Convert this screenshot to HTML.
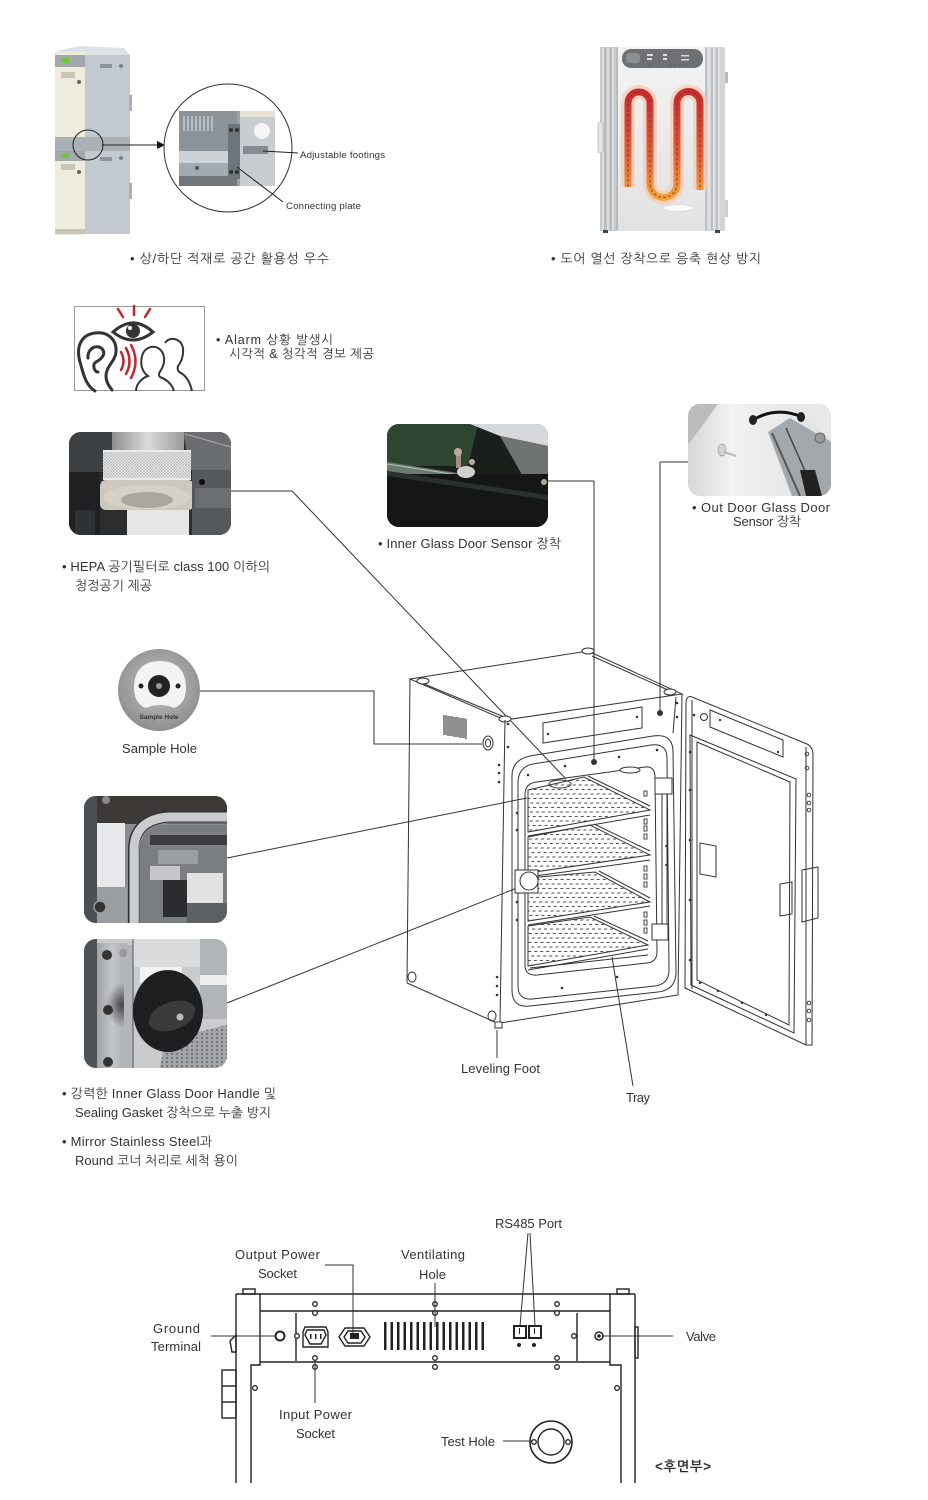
<!DOCTYPE html>
<html><head><meta charset="utf-8"><style>
html,body{margin:0;padding:0;background:#fff;}
body{width:928px;height:1500px;overflow:hidden;position:relative;}
svg{position:absolute;left:0;top:0;}
text{font-family:"Liberation Sans","NanumGothic","Noto Sans CJK KR",sans-serif;fill:#333;}
</style></head><body>
<svg width="928" height="1500" viewBox="0 0 928 1500" xmlns="http://www.w3.org/2000/svg">
<defs>
  <linearGradient id="coil" x1="0" y1="92" x2="0" y2="197" gradientUnits="userSpaceOnUse">
    <stop offset="0" stop-color="#c62f2f"/><stop offset="0.6" stop-color="#e0603a"/><stop offset="1" stop-color="#f2a53a"/>
  </linearGradient>
  <linearGradient id="door" x1="0" y1="0" x2="0" y2="1">
    <stop offset="0" stop-color="#f3f3f3"/><stop offset="1" stop-color="#e2e2e2"/>
  </linearGradient>
  <linearGradient id="cyl" x1="0" y1="0" x2="1" y2="0">
    <stop offset="0" stop-color="#8f8f8f"/><stop offset="0.5" stop-color="#dadada"/><stop offset="1" stop-color="#9a9a9a"/>
  </linearGradient>
  <linearGradient id="outd" x1="0" y1="0" x2="1" y2="0">
    <stop offset="0" stop-color="#d6d6d6"/><stop offset="0.3" stop-color="#f2f2f2"/><stop offset="1" stop-color="#e0e0e0"/>
  </linearGradient>
  <linearGradient id="plate" x1="0" y1="0" x2="1" y2="0">
    <stop offset="0" stop-color="#9ea2a5"/><stop offset="0.5" stop-color="#c4c7c9"/><stop offset="1" stop-color="#a9adb0"/>
  </linearGradient>
  <radialGradient id="smudge" cx="0.5" cy="0.5" r="0.5">
    <stop offset="0" stop-color="#2a2a2a" stop-opacity="0.8"/><stop offset="1" stop-color="#2a2a2a" stop-opacity="0"/>
  </radialGradient>
  <radialGradient id="shole" cx="0.5" cy="0.45" r="0.55">
    <stop offset="0" stop-color="#c2c2c2"/><stop offset="1" stop-color="#8f8f8f"/>
  </radialGradient>
  <pattern id="perf" width="6" height="4.5" patternUnits="userSpaceOnUse" patternTransform="skewX(-35)">
    <line x1="0.5" y1="2" x2="3.5" y2="2" stroke="#444" stroke-width="0.9"/>
  </pattern>
  <pattern id="perf2" width="5" height="4" patternUnits="userSpaceOnUse">
    <circle cx="2" cy="2" r="0.9" fill="#555"/>
  </pattern>
  <pattern id="mesh" width="3" height="3" patternUnits="userSpaceOnUse">
    <path d="M0,0 L3,3 M3,0 L0,3" stroke="#b5b5b5" stroke-width="0.6"/>
  </pattern>
  <clipPath id="c1"><rect x="69" y="432" width="162" height="103" rx="12"/></clipPath>
  <clipPath id="c2"><rect x="387" y="424" width="161" height="103" rx="12"/></clipPath>
  <clipPath id="c3"><rect x="688" y="404" width="143" height="92" rx="12"/></clipPath>
  <clipPath id="c4"><rect x="84" y="796" width="143" height="127" rx="12"/></clipPath>
  <clipPath id="c5"><rect x="84" y="939" width="143" height="129" rx="12"/></clipPath>
</defs>

<!-- ===== Section 1 left: stacked incubator ===== -->
<polygon points="55,51 80,46 124,48 130,55 85,57" fill="#dfe2e5"/>
<rect x="85" y="55" width="45" height="179" fill="#c3c9d0"/>
<rect x="55" y="52" width="30" height="183" fill="#eeecdc"/>
<rect x="55" y="55" width="30" height="12" fill="#a2a7aa"/>
<rect x="62" y="58" width="7" height="5" fill="#6fc43a"/>
<rect x="61" y="72" width="14" height="6" fill="#c9c6b4"/>
<circle cx="79" cy="82" r="2" fill="#666"/>
<rect x="55" y="137" width="75" height="14" fill="#aab0b6"/>
<rect x="55" y="151" width="30" height="10" fill="#a2a7aa"/>
<rect x="62" y="153" width="7" height="5" fill="#6fc43a"/>
<rect x="61" y="164" width="14" height="6" fill="#c9c6b4"/>
<circle cx="79" cy="172" r="2" fill="#666"/>
<rect x="55" y="229" width="30" height="5" fill="#c8c5b6"/>
<rect x="129" y="95" width="3" height="16" fill="#a9afb5"/>
<rect x="129" y="183" width="3" height="16" fill="#a9afb5"/>
<rect x="100" y="64" width="12" height="4" fill="#8d949a"/>
<rect x="100" y="157" width="12" height="4" fill="#8d949a"/>
<circle cx="121" cy="66" r="2" fill="#7b8288"/>
<circle cx="121" cy="158" r="2" fill="#7b8288"/>
<circle cx="88" cy="145" r="15" fill="none" stroke="#222" stroke-width="1"/>
<line x1="102" y1="145" x2="158" y2="145" stroke="#222" stroke-width="1"/>
<polygon points="157,141 165,145 157,149" fill="#111"/>

<!-- detail circle -->
<circle cx="228" cy="148" r="64" fill="#fff" stroke="#333" stroke-width="1"/>
<rect x="179" y="111" width="96" height="75" fill="#9aa1a7"/>
<rect x="179" y="111" width="58" height="40" fill="#8c9399"/>
<g stroke="#d6d9dc" stroke-width="1.2">
<line x1="184" y1="116" x2="184" y2="131"/><line x1="188" y1="116" x2="188" y2="131"/><line x1="192" y1="116" x2="192" y2="131"/><line x1="196" y1="116" x2="196" y2="131"/><line x1="200" y1="116" x2="200" y2="131"/><line x1="204" y1="116" x2="204" y2="131"/><line x1="208" y1="116" x2="208" y2="131"/><line x1="212" y1="116" x2="212" y2="131"/>
</g>
<rect x="179" y="151" width="58" height="12" fill="#cdd2d6"/>
<rect x="179" y="163" width="58" height="13" fill="#a3aab0"/>
<rect x="179" y="176" width="58" height="10" fill="#70777d"/>
<circle cx="197" cy="168" r="2" fill="#555"/>
<rect x="240" y="111" width="35" height="75" fill="#c8cdd1"/>
<rect x="240" y="111" width="35" height="6" fill="#e6e2d6"/>
<circle cx="262" cy="131" r="8" fill="#f5f5f5"/>
<rect x="243" y="146" width="25" height="8" fill="#858b91"/>
<rect x="228" y="124" width="12" height="55" fill="#6d747a"/>
<circle cx="231" cy="130" r="2" fill="#333"/><circle cx="237" cy="130" r="2" fill="#333"/>
<circle cx="231" cy="172" r="2" fill="#333"/><circle cx="237" cy="172" r="2" fill="#333"/>
<line x1="263" y1="151" x2="298" y2="153" stroke="#222" stroke-width="1"/>
<line x1="237" y1="167" x2="283" y2="202" stroke="#222" stroke-width="1"/>
<text x="300" y="158" font-size="9.6" textLength="85" style="font-family:'Liberation Sans',sans-serif" fill="#222">Adjustable footings</text>
<text x="286" y="209" font-size="9.6" textLength="75" style="font-family:'Liberation Sans',sans-serif" fill="#222">Connecting plate</text>
<text x="130" y="263" font-size="13" textLength="199">•  상/하단 적재로 공간 활용성 우수</text>

<!-- ===== Section 1 right: door heater ===== -->
<rect x="600" y="47" width="125" height="184" rx="2" fill="#d2d5d8"/>
<rect x="600" y="47" width="18" height="184" fill="#c6c9cc"/>
<g stroke="#eeeeee" stroke-width="1"><line x1="603" y1="48" x2="603" y2="230"/><line x1="608" y1="48" x2="608" y2="230"/><line x1="613" y1="48" x2="613" y2="230"/><line x1="709" y1="48" x2="709" y2="230"/><line x1="714" y1="48" x2="714" y2="230"/><line x1="719" y1="48" x2="719" y2="230"/></g>
<g stroke="#a9adb0" stroke-width="1"><line x1="605" y1="48" x2="605" y2="230"/><line x1="611" y1="48" x2="611" y2="230"/><line x1="617" y1="48" x2="617" y2="230"/><line x1="706" y1="48" x2="706" y2="230"/><line x1="712" y1="48" x2="712" y2="230"/><line x1="717" y1="48" x2="717" y2="230"/></g>
<rect x="618" y="47" width="87" height="184" fill="url(#door)"/>
<rect x="622" y="49" width="81" height="19" rx="9" fill="#6e7174"/>
<rect x="626" y="53" width="14" height="10" rx="3" fill="#8c8f92"/>
<g fill="#dcdcdc"><rect x="647" y="54" width="6" height="2"/><rect x="647" y="58" width="5" height="2"/><rect x="663" y="54" width="4" height="2"/><rect x="663" y="58" width="4" height="2"/><rect x="681" y="55" width="8" height="1.5"/><rect x="681" y="59" width="8" height="1.5"/></g>
<g fill="#555"><circle cx="650" cy="65" r="0.8"/><circle cx="670" cy="65" r="0.8"/><circle cx="675" cy="65" r="0.8"/><circle cx="680" cy="65" r="0.8"/><circle cx="685" cy="65" r="0.8"/></g>
<path d="M628,187 L628,103 A11,11 0 0 1 650,103 L650,184 A13.5,13.5 0 0 0 677,184 L677,103 A11.5,11.5 0 0 1 700,103 L700,190" fill="none" stroke="#f5c9b4" stroke-width="14" opacity="0.7"/>
<path d="M628,187 L628,103 A11,11 0 0 1 650,103 L650,184 A13.5,13.5 0 0 0 677,184 L677,103 A11.5,11.5 0 0 1 700,103 L700,190" fill="none" stroke="url(#coil)" stroke-width="7"/>
<path d="M628,187 L628,103 A11,11 0 0 1 650,103 L650,184 A13.5,13.5 0 0 0 677,184 L677,103 A11.5,11.5 0 0 1 700,103 L700,190" fill="none" stroke="#a52020" stroke-width="1.5" stroke-dasharray="3,2" opacity="0.6"/>
<ellipse cx="678" cy="208" rx="15" ry="3.5" fill="#fafafa" stroke="#cfcfcf" stroke-width="0.6"/>
<rect x="598" y="122" width="5" height="31" rx="2" fill="#e4e4e4" stroke="#aaa" stroke-width="0.6"/>
<rect x="725" y="72" width="3" height="11" fill="#bbb"/>
<rect x="725" y="200" width="3" height="17" fill="#ccc"/>
<rect x="603" y="230" width="5" height="3" fill="#444"/><rect x="715" y="230" width="5" height="3" fill="#444"/>
<text x="551" y="263" font-size="13" textLength="210">•  도어 열선 장착으로 응축 현상 방지</text>

<!-- ===== Alarm ===== -->
<rect x="74.5" y="306.5" width="130" height="84" fill="#fff" stroke="#999" stroke-width="1"/>
<g stroke="#c1272d" stroke-width="2.5" stroke-linecap="round" fill="none">
<line x1="118" y1="309" x2="123" y2="317"/><line x1="134" y1="306" x2="134" y2="315"/><line x1="150" y1="309" x2="145" y2="317"/>
<path d="M121,352 Q126,361 121,370"/><path d="M126,348 Q133,361 126,374"/><path d="M131,345 Q140,361 131,378"/>
</g>
<path d="M113,332 Q133,314 153,332 Q133,348 113,332 Z" fill="#fff" stroke="#333" stroke-width="3"/>
<circle cx="133" cy="331" r="7" fill="#333"/><circle cx="130" cy="328" r="2" fill="#fff"/>
<g fill="none" stroke="#333" stroke-width="3" stroke-linecap="round">
<path d="M95,391 C85,385 83,372 80,362 C76,348 80,335 95,333 C108,331 117,340 116,352 C115,362 106,366 106,376 C106,383 110,387 112,390"/>
<path d="M88,358 C87,348 98,343 103,350 C106,355 100,360 96,362 C92,364 94,372 98,372"/>
</g>
<g fill="none" stroke="#333" stroke-width="2">
<path d="M165,343 C168,338 176,337 181,343 C185,349 183,360 178,366 C177,369 178,372 181,373 C186,376 190,382 192,391"/>
<path d="M136,391 C136,384 142,378 148,376 C142,372 140,364 142,356 C144,348 152,345 158,348 C165,352 166,362 161,370 C159,373 158,375 160,377 C166,379 172,384 174,391"/>
</g>
<text x="216" y="344" font-size="12.5" textLength="117">•  Alarm 상황 발생시</text>
<text x="229" y="358" font-size="12.5" textLength="145">시각적 &amp; 청각적 경보 제공</text>

<!-- ===== HEPA photo ===== -->
<g clip-path="url(#c1)">
<rect x="69" y="432" width="162" height="103" fill="#2b2d2f"/>
<rect x="69" y="432" width="45" height="40" fill="#3e4144"/>
<polygon points="183,432 231,432 231,470 190,470" fill="#6b6e71"/>
<line x1="185" y1="434" x2="231" y2="447" stroke="#aaa" stroke-width="1"/>
<rect x="112" y="432" width="72" height="20" fill="url(#cyl)"/>
<rect x="103" y="450" width="88" height="30" fill="#ebebeb"/>
<rect x="103" y="452" width="88" height="26" fill="url(#mesh)"/>
<rect x="100" y="480" width="94" height="30" rx="6" fill="#cdc8be"/>
<ellipse cx="147" cy="497" rx="44" ry="12" fill="#d6d1c7"/>
<ellipse cx="147" cy="500" rx="26" ry="8" fill="#aca79c"/>
<rect x="127" y="510" width="62" height="25" fill="#e6e6e6"/>
<rect x="192" y="470" width="39" height="65" fill="#55595c"/>
<rect x="195" y="488" width="36" height="20" fill="#6b6f72"/>
<rect x="69" y="472" width="31" height="63" fill="#1f2123"/>
<rect x="75" y="510" width="20" height="25" fill="#2f3235"/>
<circle cx="202" cy="482" r="3" fill="#111"/>
</g>
<line x1="231" y1="491" x2="292" y2="491" stroke="#333" stroke-width="1"/>
<line x1="292" y1="491" x2="566" y2="779" stroke="#333" stroke-width="1"/>
<text x="62" y="571" font-size="13" textLength="208">•  HEPA 공기필터로 class 100 이하의</text>
<text x="75" y="590" font-size="13" textLength="77">청정공기 제공</text>

<!-- ===== Inner glass photo ===== -->
<g clip-path="url(#c2)">
<rect x="387" y="424" width="161" height="103" fill="#1a1f1c"/>
<polygon points="387,424 478,424 468,466 387,466" fill="#2e4532"/>
<polygon points="470,424 548,424 548,446 500,436" fill="#d7d8db"/>
<polygon points="500,436 548,446 548,500 525,480" fill="#6f7472"/>
<polygon points="387,462 548,487 548,495 387,471" fill="#6d7a72"/>
<line x1="387" y1="464" x2="548" y2="489" stroke="#b7c2bb" stroke-width="1"/>
<rect x="387" y="474" width="161" height="53" fill="#141715"/>
<polygon points="387,471 548,495 548,500 387,476" fill="#2a302c"/>
<rect x="456" y="452" width="5" height="16" fill="#a08f82"/>
<circle cx="458" cy="452" r="4" fill="#b8aba0"/>
<circle cx="472" cy="462" r="3" fill="#b8aba0"/>
<ellipse cx="466" cy="472" rx="9" ry="6" fill="#cfcfcf"/>
<circle cx="544" cy="482" r="3" fill="#b0a596"/>
</g>
<line x1="548" y1="481" x2="594" y2="481" stroke="#333" stroke-width="1"/>
<line x1="594" y1="481" x2="594" y2="762" stroke="#333" stroke-width="1"/>
<text x="378" y="548" font-size="13" textLength="183">•  Inner Glass Door Sensor 장착</text>

<!-- ===== Out door photo ===== -->
<g clip-path="url(#c3)">
<rect x="688" y="404" width="143" height="92" fill="url(#outd)"/>
<polygon points="688,404 718,404 688,445" fill="#bcbcbc"/>
<polygon points="790,404 831,404 831,440" fill="#e8e8e8"/>
<polygon points="768,432 790,418 831,442 831,496 792,496" fill="#a3a8ac"/>
<line x1="772" y1="433" x2="800" y2="496" stroke="#555" stroke-width="2"/>
<line x1="786" y1="428" x2="816" y2="496" stroke="#444" stroke-width="1.5"/>
<polygon points="800,470 815,470 822,496 806,496" fill="#222"/>
<path d="M753,420 Q776,406 802,417" fill="none" stroke="#111" stroke-width="3"/>
<ellipse cx="753" cy="420" rx="4" ry="5" fill="#222"/>
<ellipse cx="801" cy="417" rx="4" ry="5" fill="#222"/>
<circle cx="820" cy="438" r="5" fill="#9c9c9c" stroke="#666" stroke-width="1"/>
<ellipse cx="722" cy="450" rx="4" ry="6" fill="#d2d2d2" stroke="#a5a5a5" stroke-width="0.8"/>
<line x1="724" y1="452" x2="736" y2="456" stroke="#bbb" stroke-width="2"/>
</g>
<line x1="688" y1="462" x2="660" y2="462" stroke="#333" stroke-width="1"/>
<line x1="660" y1="462" x2="660" y2="712" stroke="#333" stroke-width="1"/>
<text x="692" y="512" font-size="13" textLength="138">•  Out Door Glass Door</text>
<text x="733" y="526" font-size="13" textLength="68">Sensor 장착</text>

<!-- ===== Sample hole ===== -->
<circle cx="159" cy="690" r="41" fill="url(#shole)"/>
<path d="M134,688 C134,668 146,661 160,661 C174,661 186,668 186,688 C186,700 180,706 174,708 C166,704 154,704 146,708 C140,706 134,700 134,688 Z" fill="#f3f3f3"/>
<circle cx="159" cy="686" r="11" fill="#222"/>
<circle cx="159" cy="686" r="3" fill="#999"/>
<circle cx="141" cy="686" r="2.5" fill="#222"/><circle cx="178" cy="686" r="2.5" fill="#222"/>
<text x="159" y="719" font-size="6.5" font-weight="bold" text-anchor="middle" fill="#444">Sample Hole</text>
<polyline points="200,691 374,691 374,744 482,744" fill="none" stroke="#333" stroke-width="1"/>
<text x="122" y="753" font-size="13" textLength="75">Sample Hole</text>

<!-- ===== Photo 3 gasket ===== -->
<g clip-path="url(#c4)">
<rect x="84" y="796" width="143" height="127" fill="#8a8e92"/>
<rect x="84" y="796" width="143" height="28" fill="#3d3936"/>
<rect x="84" y="796" width="13" height="127" fill="#4d5053"/>
<rect x="97" y="823" width="28" height="64" fill="#e6e8e9"/>
<rect x="97" y="887" width="30" height="36" fill="#9a9ea1"/>
<rect x="140" y="825" width="87" height="98" fill="#7a7e82"/>
<rect x="150" y="835" width="77" height="10" fill="#3b3d40"/>
<rect x="158" y="850" width="40" height="14" fill="#9a9ea2"/>
<rect x="150" y="866" width="30" height="14" fill="#c5c7c9"/>
<rect x="163" y="880" width="24" height="37" fill="#2b2c2e"/>
<rect x="187" y="873" width="36" height="30" fill="#e2e2e2"/>
<rect x="187" y="903" width="40" height="20" fill="#5d6064"/>
<path d="M134,923 L134,850 Q134,820 168,817 L227,817" fill="none" stroke="#2f3133" stroke-width="12"/>
<path d="M134,923 L134,850 Q134,820 168,817 L227,817" fill="none" stroke="#c9cbcc" stroke-width="9"/>
<path d="M139,923 L139,852 Q139,826 168,823 L227,823" fill="none" stroke="#8f9396" stroke-width="1"/>
<circle cx="100" cy="907" r="6" fill="#333" stroke="#999" stroke-width="1.5"/>
<circle cx="106" cy="800" r="4" fill="#888"/>
</g>
<line x1="227" y1="858" x2="527" y2="798" stroke="#333" stroke-width="1"/>

<!-- ===== Photo 4 handle ===== -->
<g clip-path="url(#c5)">
<rect x="84" y="939" width="143" height="129" fill="#c9cbcd"/>
<rect x="133" y="939" width="94" height="28" fill="#dadbdc"/>
<rect x="140" y="967" width="42" height="16" fill="#f2f2f2"/>
<rect x="200" y="939" width="27" height="80" fill="#b2b5b8"/>
<rect x="200" y="975" width="27" height="10" fill="#eeeeee"/>
<polygon points="165,1040 227,1025 227,1068 160,1068" fill="#a3a6a8"/>
<polygon points="165,1040 227,1025 227,1068 160,1068" fill="url(#perf2)"/>
<rect x="84" y="939" width="13" height="129" fill="#4f5255"/>
<rect x="97" y="943" width="30" height="125" fill="url(#plate)"/>
<ellipse cx="122" cy="1005" rx="16" ry="22" fill="url(#smudge)"/>
<rect x="124" y="945" width="9" height="123" fill="#b3b6b9"/>
<line x1="133" y1="939" x2="133" y2="1068" stroke="#555" stroke-width="1"/>
<circle cx="107" cy="955" r="5" fill="#333"/><circle cx="108" cy="1010" r="5" fill="#333"/><circle cx="108" cy="1062" r="5" fill="#333"/>
<circle cx="123" cy="953" r="4" fill="#999"/>
<ellipse cx="168" cy="1011" rx="35" ry="41" fill="#1e1f21"/>
<ellipse cx="172" cy="1016" rx="24" ry="14" transform="rotate(-20 172 1016)" fill="#3a3b3d"/>
<circle cx="180" cy="1017" r="3.5" fill="#bbb"/>
</g>
<line x1="227" y1="1003" x2="527" y2="884" stroke="#333" stroke-width="1"/>

<text x="62" y="1098" font-size="13" textLength="214">•  강력한 Inner Glass Door Handle 및</text>
<text x="75" y="1117" font-size="13" textLength="196">Sealing Gasket 장착으로 누출 방지</text>
<text x="62" y="1146" font-size="13" textLength="150">•  Mirror Stainless Steel과</text>
<text x="75" y="1165" font-size="13" textLength="163">Round 코너 처리로 세척 용이</text>

<!-- ===== Incubator drawing ===== -->
<g fill="none" stroke="#333" stroke-width="1">
<path d="M410,679 L588,651 L682,694 L505,720 Z"/>
<line x1="424" y1="684" x2="502" y2="716"/>
<line x1="592" y1="656" x2="668" y2="690"/>
<ellipse cx="423" cy="681" rx="6" ry="3" fill="#fff"/>
<ellipse cx="588" cy="651" rx="6" ry="3" fill="#fff"/>
<ellipse cx="670" cy="692" rx="6" ry="3" fill="#fff"/>
<ellipse cx="505" cy="719" rx="6" ry="3" fill="#fff"/>
<line x1="410" y1="679" x2="407" y2="983"/>
<line x1="407" y1="983" x2="497" y2="1023"/>
<line x1="505" y1="720" x2="500" y2="1023"/>
<line x1="500" y1="1023" x2="678" y2="995"/>
<line x1="682" y1="694" x2="678" y2="995"/>
<line x1="676" y1="697" x2="673" y2="733"/>
<rect x="495" y="1022" width="7" height="6" fill="#fff"/>
<ellipse cx="488" cy="743" rx="5" ry="7"/>
<ellipse cx="488" cy="743" rx="2.5" ry="4"/>
<ellipse cx="412" cy="977" rx="4" ry="5"/>
<ellipse cx="492" cy="1016" rx="4" ry="5"/>
<path d="M543,723 L642,707 L642,728 L543,743 Z"/>
<path d="M512,778 Q511,760 530,756 L653,736 Q673,733 673,752 L676,972 Q676,990 658,992 L530,1006 Q512,1008 512,990 Z"/>
<path d="M518,783 Q518,767 533,764 L651,745 Q667,743 667,758 L669,970 Q669,984 655,986 L532,999 Q518,1000 518,986 Z"/>
<path d="M525,795 Q525,783 537,782 L645,767 Q655,766 655,777 L657,952 Q657,962 647,963 L537,975 Q525,976 525,965 Z"/>
<line x1="530" y1="968" x2="648" y2="955"/>
<line x1="662" y1="794" x2="662" y2="924"/>
<line x1="667" y1="794" x2="667" y2="924"/>
<rect x="655" y="778" width="17" height="16" fill="#fff"/>
<rect x="652" y="924" width="16" height="16" fill="#fff"/>
<ellipse cx="560" cy="784" rx="11" ry="4" fill="#fff"/>
<ellipse cx="630" cy="770" rx="10" ry="3" fill="#fff"/>
</g>
<g stroke="#222" stroke-width="1">
<line x1="444" y1="715" x2="444" y2="735"/><line x1="446" y1="715" x2="446" y2="735"/><line x1="448" y1="716" x2="448" y2="736"/><line x1="450" y1="716" x2="450" y2="736"/><line x1="452" y1="716" x2="452" y2="736"/><line x1="454" y1="717" x2="454" y2="737"/><line x1="456" y1="717" x2="456" y2="737"/><line x1="458" y1="717" x2="458" y2="737"/><line x1="460" y1="718" x2="460" y2="738"/><line x1="462" y1="718" x2="462" y2="738"/><line x1="464" y1="718" x2="464" y2="738"/><line x1="466" y1="719" x2="466" y2="739"/>
</g>
<g stroke="#333" stroke-width="1">
<polygon points="528,790 584,777 650,810 528,832" fill="url(#perf)"/>
<polygon points="528,837 590,825 650,855 528,873" fill="url(#perf)"/>
<polygon points="528,878 595,872 650,902 528,921" fill="url(#perf)"/>
<polygon points="528,926 590,917 648,945 528,966" fill="url(#perf)"/>
<line x1="528" y1="836" x2="650" y2="815"/>
<line x1="528" y1="877" x2="650" y2="860"/>
<line x1="528" y1="925" x2="650" y2="906"/>
<line x1="528" y1="970" x2="648" y2="949"/>
<line x1="588" y1="776" x2="650" y2="806"/>
<line x1="594" y1="824" x2="650" y2="851"/>
<line x1="599" y1="871" x2="650" y2="898"/>
<line x1="594" y1="916" x2="648" y2="941"/>
</g>
<g fill="none" stroke="#333" stroke-width="0.9">
<rect x="644" y="791" width="3" height="5"/><rect x="644" y="819" width="3" height="5"/><rect x="644" y="826" width="3" height="5"/><rect x="644" y="834" width="3" height="5"/><rect x="644" y="866" width="3" height="5"/><rect x="644" y="874" width="3" height="5"/><rect x="644" y="882" width="3" height="5"/><rect x="644" y="912" width="3" height="5"/><rect x="644" y="920" width="3" height="5"/><rect x="644" y="928" width="3" height="5"/>
</g>
<rect x="515" y="870" width="23" height="23" fill="#fff" stroke="#333" stroke-width="1"/>
<circle cx="529" cy="881" r="9" fill="#fff" stroke="#333" stroke-width="1"/>
<g fill="#333">
<circle cx="508" cy="724" r="1.3"/><circle cx="508" cy="747" r="1.3"/><circle cx="499" cy="765" r="1.3"/><circle cx="499" cy="773" r="1.3"/><circle cx="499" cy="782" r="1.3"/>
<circle cx="517" cy="813" r="1.3"/><circle cx="517" cy="830" r="1.3"/><circle cx="517" cy="902" r="1.3"/><circle cx="517" cy="920" r="1.3"/>
<circle cx="497" cy="977" r="1.3"/><circle cx="497" cy="986" r="1.3"/><circle cx="497" cy="995" r="1.3"/>
<circle cx="562" cy="988" r="1.3"/><circle cx="617" cy="977" r="1.3"/>
<circle cx="528" cy="775" r="1.3"/><circle cx="565" cy="766" r="1.3"/><circle cx="619" cy="757" r="1.3"/><circle cx="657" cy="750" r="1.3"/>
<circle cx="548" cy="734" r="1.2"/><circle cx="637" cy="717" r="1.2"/>
<circle cx="677" cy="703" r="1.3"/><circle cx="677" cy="717" r="1.3"/>
<circle cx="666" cy="846" r="1"/><circle cx="666" cy="865" r="1"/>
<circle cx="594" cy="762" r="3"/>
<circle cx="660" cy="713" r="3"/>
</g>
<g fill="none" stroke="#333" stroke-width="1">
<path d="M692,697 L807,744 Q813,747 813,755 L812,1045 L806,1045 L685,988 L686,702 Q687,695 692,697 Z"/>
<line x1="806" y1="747" x2="806" y2="1045"/>
<line x1="692" y1="700" x2="692" y2="989"/>
<path d="M690,735 L796,779 L794,1033 L691,985 Z"/>
<path d="M697,742 L790,782 L789,1025 L697,980 Z"/>
<path d="M710,710 L783,740 L783,757 L710,727 Z"/>
<circle cx="704" cy="717" r="3.5"/>
<path d="M700,843 L716,846 L716,877 L700,874 Z"/>
<path d="M802,870 L818,867 L818,918 L802,922 Z"/>
<path d="M780,884 L792,882 L792,914 L780,916 Z"/>
</g>
<g fill="#333">
<circle cx="694" cy="715" r="1.3"/><circle cx="690" cy="752" r="1.3"/><circle cx="690" cy="790" r="1.3"/><circle cx="690" cy="840" r="1.3"/><circle cx="690" cy="900" r="1.3"/><circle cx="690" cy="960" r="1.3"/>
<circle cx="720" cy="720" r="1.2"/><circle cx="778" cy="752" r="1.2"/>
<circle cx="700" cy="983" r="1.2"/><circle cx="718" cy="991" r="1.2"/><circle cx="742" cy="1003" r="1.2"/><circle cx="766" cy="1015" r="1.2"/>
</g>
<g fill="none" stroke="#333" stroke-width="0.9">
<circle cx="807" cy="754" r="1.8"/><circle cx="807" cy="768" r="1.8"/><circle cx="809" cy="795" r="1.8"/><circle cx="809" cy="803" r="1.8"/><circle cx="809" cy="810" r="1.8"/><circle cx="809" cy="1003" r="1.8"/><circle cx="809" cy="1011" r="1.8"/><circle cx="809" cy="1020" r="1.8"/>
</g>
<line x1="497" y1="1030" x2="497" y2="1058" stroke="#333" stroke-width="1"/>
<line x1="612" y1="957" x2="633" y2="1086" stroke="#333" stroke-width="1"/>
<text x="461" y="1073" font-size="13" textLength="79">Leveling Foot</text>
<text x="626" y="1102" font-size="13" textLength="24">Tray</text>

<!-- ===== Rear panel ===== -->
<g fill="none" stroke="#222" stroke-width="1.4">
<line x1="236" y1="1294" x2="236" y2="1483"/>
<line x1="635" y1="1294" x2="635" y2="1483"/>
<line x1="236" y1="1294" x2="635" y2="1294"/>
<line x1="260" y1="1294" x2="260" y2="1362"/>
<line x1="610" y1="1294" x2="610" y2="1362"/>
<line x1="260" y1="1311" x2="610" y2="1311"/>
<line x1="260" y1="1362" x2="610" y2="1362"/>
<polyline points="260,1362 260,1365 251,1365 251,1483"/>
<polyline points="610,1362 610,1365 621,1365 621,1483"/>
<line x1="296" y1="1313" x2="296" y2="1361"/>
<line x1="577" y1="1313" x2="577" y2="1361"/>
<rect x="243" y="1289" width="12" height="5"/>
<rect x="617" y="1289" width="12" height="5"/>
<rect x="222" y="1370" width="14" height="48"/>
<line x1="222" y1="1386" x2="236" y2="1386"/><line x1="222" y1="1402" x2="236" y2="1402"/>
<polygon points="236,1335 230,1341 232,1352 236,1352"/>
<rect x="635" y="1327" width="3" height="31"/>
<circle cx="280" cy="1336" r="4.5" stroke-width="2"/>
<path d="M305,1327 L326,1327 L328,1332 L328,1347 L303,1347 L303,1332 Z"/>
<path d="M307,1330 L324,1330 L326,1335 L321,1344 L310,1344 L305,1335 Z"/>
<path d="M339,1337 L345,1328 L364,1328 L370,1337 L364,1346 L345,1346 Z"/>
<path d="M344,1337 L348,1331 L361,1331 L365,1337 L361,1343 L348,1343 Z"/>
<rect x="514" y="1326" width="12" height="12" stroke-width="2"/>
<rect x="529" y="1326" width="12" height="12" stroke-width="2"/>
<circle cx="599" cy="1336" r="4" stroke-width="1.5"/>
<circle cx="551" cy="1442" r="21" stroke-width="1.6"/>
<circle cx="551" cy="1442" r="13" stroke-width="1.4"/>
</g>
<g fill="#222">
<rect x="310" y="1334" width="1.5" height="5"/><rect x="315" y="1334" width="1.5" height="5"/><rect x="320" y="1334" width="1.5" height="5"/>
<rect x="350" y="1333" width="9" height="6"/>
<circle cx="599" cy="1336" r="1.8"/>
<circle cx="519" cy="1345" r="2"/><circle cx="534" cy="1345" r="2"/>
<rect x="519" y="1328" width="1" height="6"/><rect x="534" y="1328" width="1" height="6"/>
</g>
<g fill="#222">
<rect x="384" y="1322" width="2.5" height="28"/><rect x="390.5" y="1322" width="2.5" height="28"/><rect x="397" y="1322" width="2.5" height="28"/><rect x="403.5" y="1322" width="2.5" height="28"/><rect x="410" y="1322" width="2.5" height="28"/><rect x="416.5" y="1322" width="2.5" height="28"/><rect x="423" y="1322" width="2.5" height="28"/><rect x="429.5" y="1322" width="2.5" height="28"/><rect x="436" y="1322" width="2.5" height="28"/><rect x="442.5" y="1322" width="2.5" height="28"/><rect x="449" y="1322" width="2.5" height="28"/><rect x="455.5" y="1322" width="2.5" height="28"/><rect x="462" y="1322" width="2.5" height="28"/><rect x="468.5" y="1322" width="2.5" height="28"/><rect x="475" y="1322" width="2.5" height="28"/><rect x="481.5" y="1322" width="2.5" height="28"/>
</g>
<g fill="#fff" stroke="#222" stroke-width="1.3">
<circle cx="315" cy="1304" r="2.3"/><circle cx="435" cy="1304" r="2.3"/><circle cx="557" cy="1304" r="2.3"/>
<circle cx="315" cy="1313" r="2.3"/><circle cx="435" cy="1313" r="2.3"/><circle cx="557" cy="1313" r="2.3"/>
<circle cx="315" cy="1358" r="2.3"/><circle cx="435" cy="1358" r="2.3"/><circle cx="557" cy="1358" r="2.3"/>
<circle cx="315" cy="1367" r="2.3"/><circle cx="435" cy="1367" r="2.3"/><circle cx="557" cy="1367" r="2.3"/>
<circle cx="255" cy="1388" r="2.3"/><circle cx="617" cy="1388" r="2.3"/>
<circle cx="297" cy="1336" r="2.3"/><circle cx="574" cy="1336" r="2.3"/>
<circle cx="534" cy="1442" r="2.3"/><circle cx="568" cy="1442" r="2.3"/>
</g>
<g stroke="#333" stroke-width="1" fill="none">
<line x1="211" y1="1336" x2="276" y2="1336"/>
<line x1="602" y1="1336" x2="673" y2="1336"/>
<line x1="503" y1="1441" x2="532" y2="1441"/>
<line x1="315" y1="1360" x2="315" y2="1403"/>
<line x1="435" y1="1283" x2="435" y2="1327"/>
<polyline points="325,1265 353,1265 353,1333"/>
<line x1="528" y1="1233" x2="520" y2="1326"/>
<line x1="530" y1="1233" x2="535" y2="1326"/>
</g>
<text x="235" y="1259" font-size="13" textLength="85">Output Power</text>
<text x="258" y="1278" font-size="13" textLength="39">Socket</text>
<text x="401" y="1259" font-size="13" textLength="64">Ventilating</text>
<text x="419" y="1279" font-size="13" textLength="27">Hole</text>
<text x="495" y="1228" font-size="13" textLength="67">RS485 Port</text>
<text x="153" y="1333" font-size="13" textLength="47">Ground</text>
<text x="151" y="1351" font-size="13" textLength="50">Terminal</text>
<text x="686" y="1341" font-size="13" textLength="30">Valve</text>
<text x="279" y="1419" font-size="13" textLength="73">Input Power</text>
<text x="296" y="1438" font-size="13" textLength="39">Socket</text>
<text x="441" y="1446" font-size="13" textLength="54">Test Hole</text>
<text x="655" y="1471" font-size="13.5" font-weight="bold" textLength="56">&lt;후면부&gt;</text>
</svg>
</body></html>
